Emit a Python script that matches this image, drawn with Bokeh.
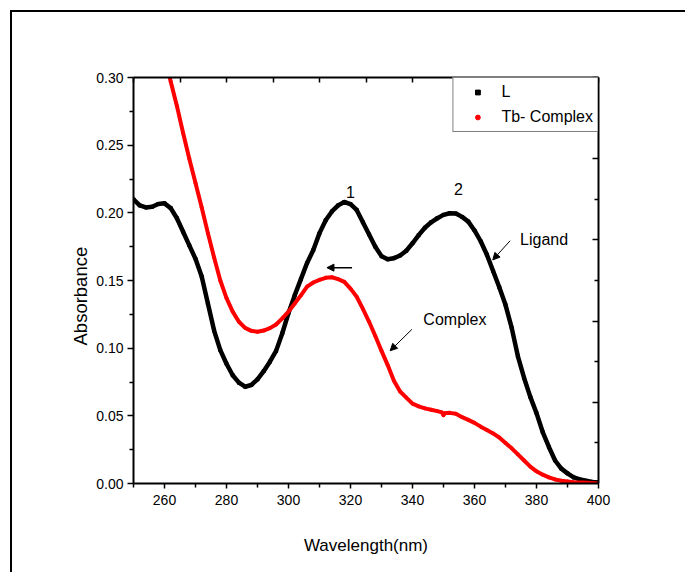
from bokeh.plotting import figure
from bokeh.models import (Range1d, LinearAxis, FixedTicker, Legend, LegendItem, Label, Title,
                          Arrow, NormalHead, CustomJSTickFormatter, PrintfTickFormatter)
from bokeh.embed import file_html
from bokeh.resources import INLINE

# ---------------- data ----------------
wavelength_L = [250, 252, 254, 256, 258, 260, 262, 264, 266, 268, 270, 272, 274, 276, 278,
                280, 282, 284, 286, 288, 290, 292, 294, 296, 298, 300, 302, 304, 306, 308,
                310, 312, 314, 316, 318, 320, 322, 324, 326, 328, 330, 332, 334, 336, 338,
                340, 342, 344, 346, 348, 350, 352, 354, 356, 358, 360, 362, 364, 366, 368,
                370, 372, 374, 376, 378, 380, 382, 384, 386, 388, 390, 392, 394, 396, 398, 400]
absorbance_L = [0.210, 0.2055, 0.204, 0.2045, 0.2065, 0.207, 0.2035, 0.196, 0.186, 0.176,
                0.166, 0.153, 0.133, 0.113, 0.0986, 0.0885, 0.080, 0.0745, 0.0715, 0.0728,
                0.0770, 0.083, 0.090, 0.098, 0.111, 0.126, 0.139, 0.151, 0.163, 0.1725,
                0.185, 0.1945, 0.201, 0.2055, 0.208, 0.2065, 0.2021, 0.193, 0.184, 0.175,
                0.168, 0.1657, 0.1665, 0.1685, 0.172, 0.1775, 0.1835, 0.189, 0.193, 0.196,
                0.1985, 0.1997, 0.1995, 0.197, 0.1935, 0.187, 0.179, 0.169, 0.157, 0.145,
                0.132, 0.115, 0.094, 0.078, 0.064, 0.052, 0.038, 0.027, 0.017, 0.011,
                0.0075, 0.0045, 0.003, 0.002, 0.0012, 0.001]

wavelength_Tb = [258, 260, 262, 264, 266, 268, 270, 272, 274, 276, 278, 280, 282, 284, 286,
                 288, 290, 292, 294, 296, 298, 300, 302, 304, 306, 308, 310, 312, 314, 316,
                 318, 320, 322, 324, 326, 328, 330, 332, 334, 336, 338, 340, 342, 344, 346,
                 348, 349.5, 350, 350.5, 352, 354, 356, 358, 360, 362, 364, 366, 368, 370,
                 372, 374, 376, 378, 380, 382, 384, 386, 388, 390, 392, 395, 400]
absorbance_Tb = [0.334, 0.316, 0.297, 0.279, 0.259, 0.240, 0.222, 0.204, 0.185, 0.167,
                 0.150, 0.137, 0.127, 0.1195, 0.1150, 0.1128, 0.1121, 0.113, 0.1148, 0.1175,
                 0.122, 0.127, 0.133, 0.139, 0.1455, 0.1485, 0.1505, 0.152, 0.1524, 0.151,
                 0.149, 0.144, 0.138, 0.129, 0.1195, 0.109, 0.098, 0.0875, 0.076, 0.068,
                 0.0635, 0.059, 0.057, 0.0555, 0.0545, 0.0535, 0.0525, 0.0505, 0.052, 0.0522,
                 0.0515, 0.049, 0.047, 0.0448, 0.042, 0.0395, 0.037, 0.034, 0.030, 0.026,
                 0.0215, 0.017, 0.0125, 0.009, 0.0065, 0.0045, 0.003, 0.002, 0.0015, 0.001,
                 0.0008, 0.0]

x_major = [260, 280, 300, 320, 340, 360, 380, 400]
x_minor = [250, 270, 290, 310, 330, 350, 370, 390]
y_major = [0.00, 0.05, 0.10, 0.15, 0.20, 0.25, 0.30]
y_minor = [0.025, 0.075, 0.125, 0.175, 0.225, 0.275]
top_ticks = [250, 265, 280, 295, 310, 325, 340, 355, 370, 385, 400]
right_major = [0.06, 0.12, 0.18, 0.24, 0.30]
right_minor = [0.03, 0.09, 0.15, 0.21, 0.27]

series_labels = ["L", "Tb- Complex"]
peak_labels = ["1", "2"]
x_title = "Wavelength(nm)"
y_title = "Absorbance"

FONT = "Liberation Sans"

p = figure(frame_width=465, frame_height=406,
           min_border_left=121, min_border_right=87, min_border_top=65, min_border_bottom=89,
           x_range=Range1d(250, 400), y_range=Range1d(0, 0.30),
           output_backend="svg", toolbar_location=None,
           x_axis_label=x_title)
p.styles = {"margin-left": "10px", "margin-top": "10px",
            "border-left": "2px solid black", "border-top": "2px solid black"}
p.grid.visible = False
p.outline_line_color = None
p.background_fill_color = "white"
p.border_fill_color = "white"

xa = p.xaxis[0]
xa.ticker = FixedTicker(ticks=x_major, minor_ticks=x_minor)
ya = p.yaxis[0]
ya.ticker = FixedTicker(ticks=y_major, minor_ticks=y_minor)
ya.formatter = PrintfTickFormatter(format="%.2f")

for ax, tout, min_out in ((xa, 5, 4), (ya, 6, 4)):
    ax.axis_line_width = 2
    ax.axis_line_color = "black"
    ax.major_tick_line_width = 1.5
    ax.minor_tick_line_width = 1.5
    ax.major_tick_in = 0
    ax.major_tick_out = tout
    ax.minor_tick_in = 0
    ax.minor_tick_out = min_out
    ax.major_label_text_font = FONT
    ax.major_label_text_font_size = "14px"
    ax.major_label_text_color = "black"
    ax.axis_label_text_font = FONT
    ax.axis_label_text_font_size = "17px"
    ax.axis_label_text_font_style = "normal"
    ax.axis_label_text_color = "black"
xa.major_label_standoff = 6
xa.axis_label_standoff = 28
ya.major_label_standoff = 4

blank = CustomJSTickFormatter(code="return ''")
top = LinearAxis(ticker=FixedTicker(ticks=top_ticks), formatter=blank,
                 major_tick_in=5, major_tick_out=0, minor_tick_in=0, minor_tick_out=0,
                 axis_line_width=2, major_tick_line_width=1.5)
p.add_layout(top, "above")
right = LinearAxis(ticker=FixedTicker(ticks=right_major, minor_ticks=right_minor), formatter=blank,
                   major_tick_in=6, major_tick_out=0, minor_tick_in=4, minor_tick_out=0,
                   axis_line_width=2, major_tick_line_width=1.5, minor_tick_line_width=1.5)
p.add_layout(right, "right")

# y-axis title, set slightly below the frame centre as in the original
p.add_layout(Title(text=y_title, align="left", offset=138, standoff=6,
                   text_font=FONT, text_font_size="18.5px", text_font_style="normal",
                   text_color="black"), "left")

# point markers (as in the original scatter plot) under the connecting lines
sq = p.scatter(wavelength_L, absorbance_L, marker="square", size=3, color="black")
dot = p.scatter(wavelength_Tb, absorbance_Tb, marker="circle", size=3, color="red")
p.line(wavelength_L, absorbance_L, line_color="black", line_width=4.5, line_join="round")
p.line(wavelength_Tb, absorbance_Tb, line_color="red", line_width=4, line_join="round")

legend = Legend(items=[LegendItem(label=series_labels[0], renderers=[sq]),
                       LegendItem(label=series_labels[1], renderers=[dot])],
                location="top_right", margin=0, padding=4, spacing=5,
                glyph_width=40, glyph_height=12, label_height=20, label_standoff=4,
                label_text_font=FONT, label_text_font_size="16px", label_text_color="black",
                border_line_color="black", border_line_width=1, background_fill_alpha=1)
p.add_layout(legend)

def lab(x, y, t, align="center"):
    p.add_layout(Label(x=x, y=y, text=t, text_font=FONT, text_font_size="16px",
                       text_align=align, text_baseline="middle", text_color="black"))

lab(320.0, 0.2155, peak_labels[0])
lab(354.8, 0.2175, peak_labels[1])
lab(374.7, 0.180, "Ligand", "left")
lab(343.5, 0.121, "Complex", "left")

def arr(x0, y0, x1, y1, w=1):
    p.add_layout(Arrow(end=NormalHead(size=7, fill_color="black", line_color="black", line_width=1),
                       x_start=x0, y_start=y0, x_end=x1, y_end=y1,
                       line_color="black", line_width=w))

arr(371.5, 0.1794, 365.9, 0.1652)
arr(339.8, 0.1139, 332.8, 0.0981)
arr(320.5, 0.1595, 312.4, 0.1595, 1.5)

open("out.html", "w").write(file_html(p, INLINE))
